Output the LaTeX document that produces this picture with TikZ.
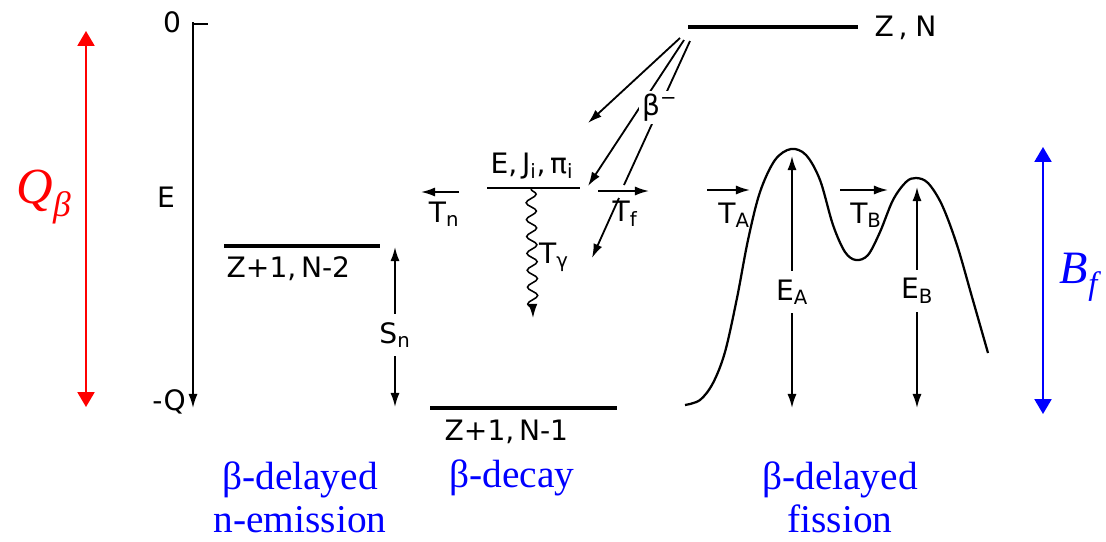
\documentclass[tikz,border=0pt]{standalone}
\usepackage{fontspec}
\setmainfont{Liberation Serif}
\newfontfamily\scanfont{DejaVu Sans}
\usetikzlibrary{arrows.meta,decorations.pathmorphing}
\newcommand{\level}[5][3.5pt]{\coordinate (#2L) at (#3,#5);\coordinate (#2R) at (#4,#5);\draw[line width=#1] (#2L)--(#2R);}

\begin{document}
\begin{tikzpicture}[x=.025cm,y=-.025cm,
  lbl/.style={font=\scanfont\fontsize{20}{22}\selectfont,inner sep=1pt},
  chname/.style={font=\fontsize{28}{31}\selectfont,text=blue,align=center,anchor=north,inner sep=0pt},
  tip/.style={-{Latex[length=10pt,width=6.5pt]},line width=1.3pt},
  dtip/.style={{Latex[length=10pt,width=6.5pt]}-{Latex[length=10pt,width=6.5pt]},line width=1.3pt},
  big/.style={{Triangle[length=10.5pt,width=12pt]}-{Triangle[length=10.5pt,width=12pt]},line width=1.4pt}]
\useasboundingbox (0,0) rectangle (1106,541);
% energy axis
\coordinate (ax0) at (193,22);\coordinate (ax1) at (193,24);\coordinate (axQ) at (193,408);\coordinate (tick) at (208,24);
\draw[tip] (ax0)--(axQ);\draw[line width=1.3pt] (ax1)--(tick);
\node[lbl] (zero) at (172,22){0};\node[lbl] (en) at (166,197){E};\node[lbl] (mq) at (169,402){-Q};
% levels
\level{zn}{688}{858}{27}\level{nm2}{224}{380}{246}\level{nm1}{430}{617}{408}\level[1.4pt]{ex}{487}{580}{188}
\node[lbl,anchor=west] (znlab) at (873,28){Z\,,\;N};
\node[lbl,anchor=west] (nm2lab) at (225,269){Z+1,\,N-2};
\node[lbl,anchor=west] (nm1lab) at (443,432){Z+1,\,N-1};
\node[lbl] (exlab) at (532,166){E,\,J\textsubscript{i},\,π\textsubscript{i}};
% beta feeding
\coordinate (s1) at (680,38);\coordinate (s2) at (684,40);\coordinate (s3) at (690,41);
\coordinate (e1) at (588,123);\coordinate (e2) at (588,186);\coordinate (e3) at (624,185);
\coordinate (f3) at (619,198);\coordinate (g3) at (592,258);
\draw[tip] (s1)--(e1);\draw[tip] (s2)--(e2);
\draw[line width=1.3pt] (s3)--(e3) node[pos=.46,fill=white,lbl,inner sep=2pt] (beta){β\textsuperscript{−}};
\draw[tip] (f3)--(g3);
% decay channels of the level
\coordinate (tn0) at (459,192);\coordinate (tn1) at (421,192);\draw[tip] (tn0)--(tn1);
\node[lbl] (tn) at (444,214){T\textsubscript{n}};
\coordinate (tf0) at (598,191);\coordinate (tf1) at (649,191);\draw[tip] (tf0)--(tf1);
\node[lbl] (tf) at (625,214){T\textsubscript{f}};
\coordinate (wg0) at (531,189);\coordinate (wg1) at (533,318);
\draw[tip,line width=1.1pt,decorate,decoration={snake,amplitude=3.6pt,segment length=12pt,post length=6pt}] (wg0)--(wg1);
\node[lbl] (tg) at (554,257){T\textsubscript{γ}};
% neutron separation
\coordinate (snT) at (395,247);\coordinate (snB) at (395,407);
\draw[dtip] (snT)--(snB) node[pos=.55,fill=white,lbl,inner sep=6pt] (sn){S\textsubscript{n}};
% fission barrier
\draw[line width=1.6pt] plot[smooth,tension=.55] coordinates {(685,405) (700,400) (713,383) (725,352) (737,298) (748,240) (760,192) (775,160) (791,149) (806,155) (820,180) (833,225) (845,252) (856,260) (868,255) (880,232) (893,200) (906,182) (916,178) (928,183) (942,205) (957,245) (972,297) (988,353)};
\coordinate (eaT) at (792,156);\coordinate (eaB) at (792,408);\coordinate (ebT) at (917,187);\coordinate (ebB) at (917,408);
\draw[dtip] (eaT)--(eaB) node[pos=.54,fill=white,lbl,inner sep=6pt] (ea){E\textsubscript{A}};
\draw[dtip] (ebT)--(ebB) node[pos=.47,fill=white,lbl,inner sep=6pt] (eb){E\textsubscript{B}};
\coordinate (ta0) at (707,190);\coordinate (ta1) at (750,190);\draw[tip] (ta0)--(ta1);
\node[lbl] (ta) at (734,215){T\textsubscript{A}};
\coordinate (tb0) at (840,190);\coordinate (tb1) at (888,190);\draw[tip] (tb0)--(tb1);
\node[lbl] (tb) at (866,215){T\textsubscript{B}};
% Q value and fission barrier
\coordinate (qT) at (86,31);\coordinate (qB) at (86,407);\draw[big,red] (qT)--(qB);
\node[text=red,font=\fontsize{36}{38}\selectfont\itshape] (qlab) at (44,197){Q\textsubscript{β}};
\coordinate (bT) at (1043,147);\coordinate (bB) at (1043,414);\draw[big,blue] (bT)--(bB);
\node[text=blue,font=\fontsize{33}{35}\selectfont\itshape] (blab) at (1079,277){B\textsubscript{f}};
% channel names
\node[chname] (nem) at (300,461){β-delayed\\n-emission};
\node[chname] (bdec) at (512,459){β-decay};
\node[chname] (bfis) at (840,461){β-delayed\\fission};
\end{tikzpicture}
\end{document}
